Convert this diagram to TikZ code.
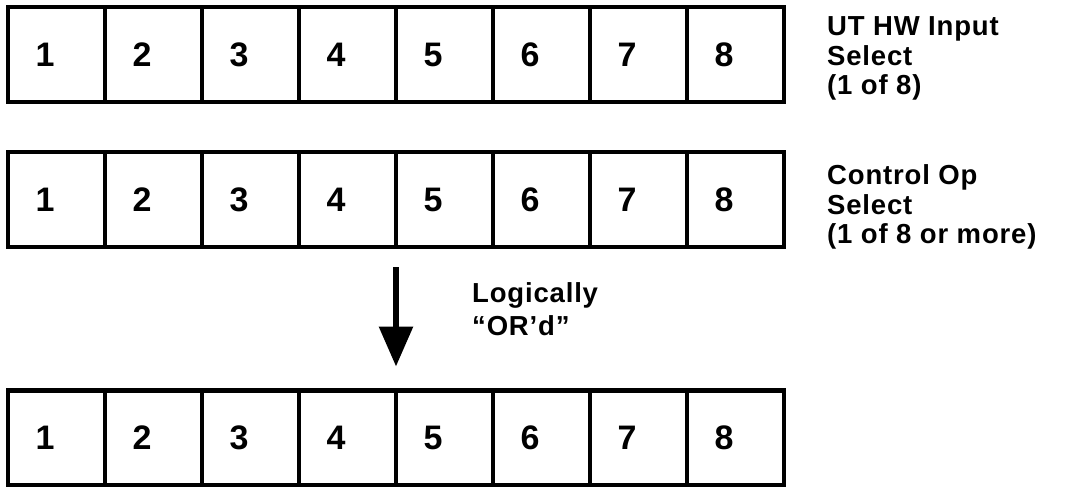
\documentclass[tikz,border=0pt]{standalone}
\usepackage{fontspec}
\setmainfont{Liberation Sans}
\usetikzlibrary{arrows.meta,calc}

\begin{document}
\begin{tikzpicture}[x=1pt,y=-1pt,
  cell/.style={draw,line width=4.6pt,minimum width=97pt,minimum height=95pt,
    inner sep=0pt,outer sep=0pt},
  digit/.style={font=\fontsize{34}{34}\selectfont\bfseries,inner sep=0pt},
  side/.style={font=\fontsize{27.5}{29.5}\selectfont\bfseries
      \addfontfeature{LetterSpace=3},align=left,
    anchor=north west,inner sep=0pt},
  flow/.style={line width=6pt,-{Triangle[length=40pt,width=33pt]}},
]
\fill[white] (0,0) rectangle (1069,487);
\useasboundingbox (0,0) rectangle (1069,487);

% three registers of eight bits each
\foreach \r/\yc in {1/54.5,2/199.5,3/438}{
  \foreach \i in {1,...,8}{
    \node[cell,label={[digit,xshift=-11.5pt]center:\i}] (r\r c\i)
      at ({8+97*(\i-0.5)},\yc) {};
  }
}

% register captions
\node[side] (cap1) at (827,16.5) {UT HW Input\\Select\\(1 of 8)};
\node[side] (cap2) at (827,164.5) {Control Op\\Select\\(1 of 8 or more)};

% combining arrow between the second and third register
\coordinate (atop) at ($(r2c4.south east)+(0,20)$);
\coordinate (abot) at ($(r3c5.north west)+(0,-24)$);
\draw[flow] (atop) -- (abot);
\node[side,font=\fontsize{27.5}{33}\selectfont\bfseries\addfontfeature{LetterSpace=3}]
  (orlabel) at (472,282) {Logically\\“OR’d”};
\end{tikzpicture}
\end{document}
